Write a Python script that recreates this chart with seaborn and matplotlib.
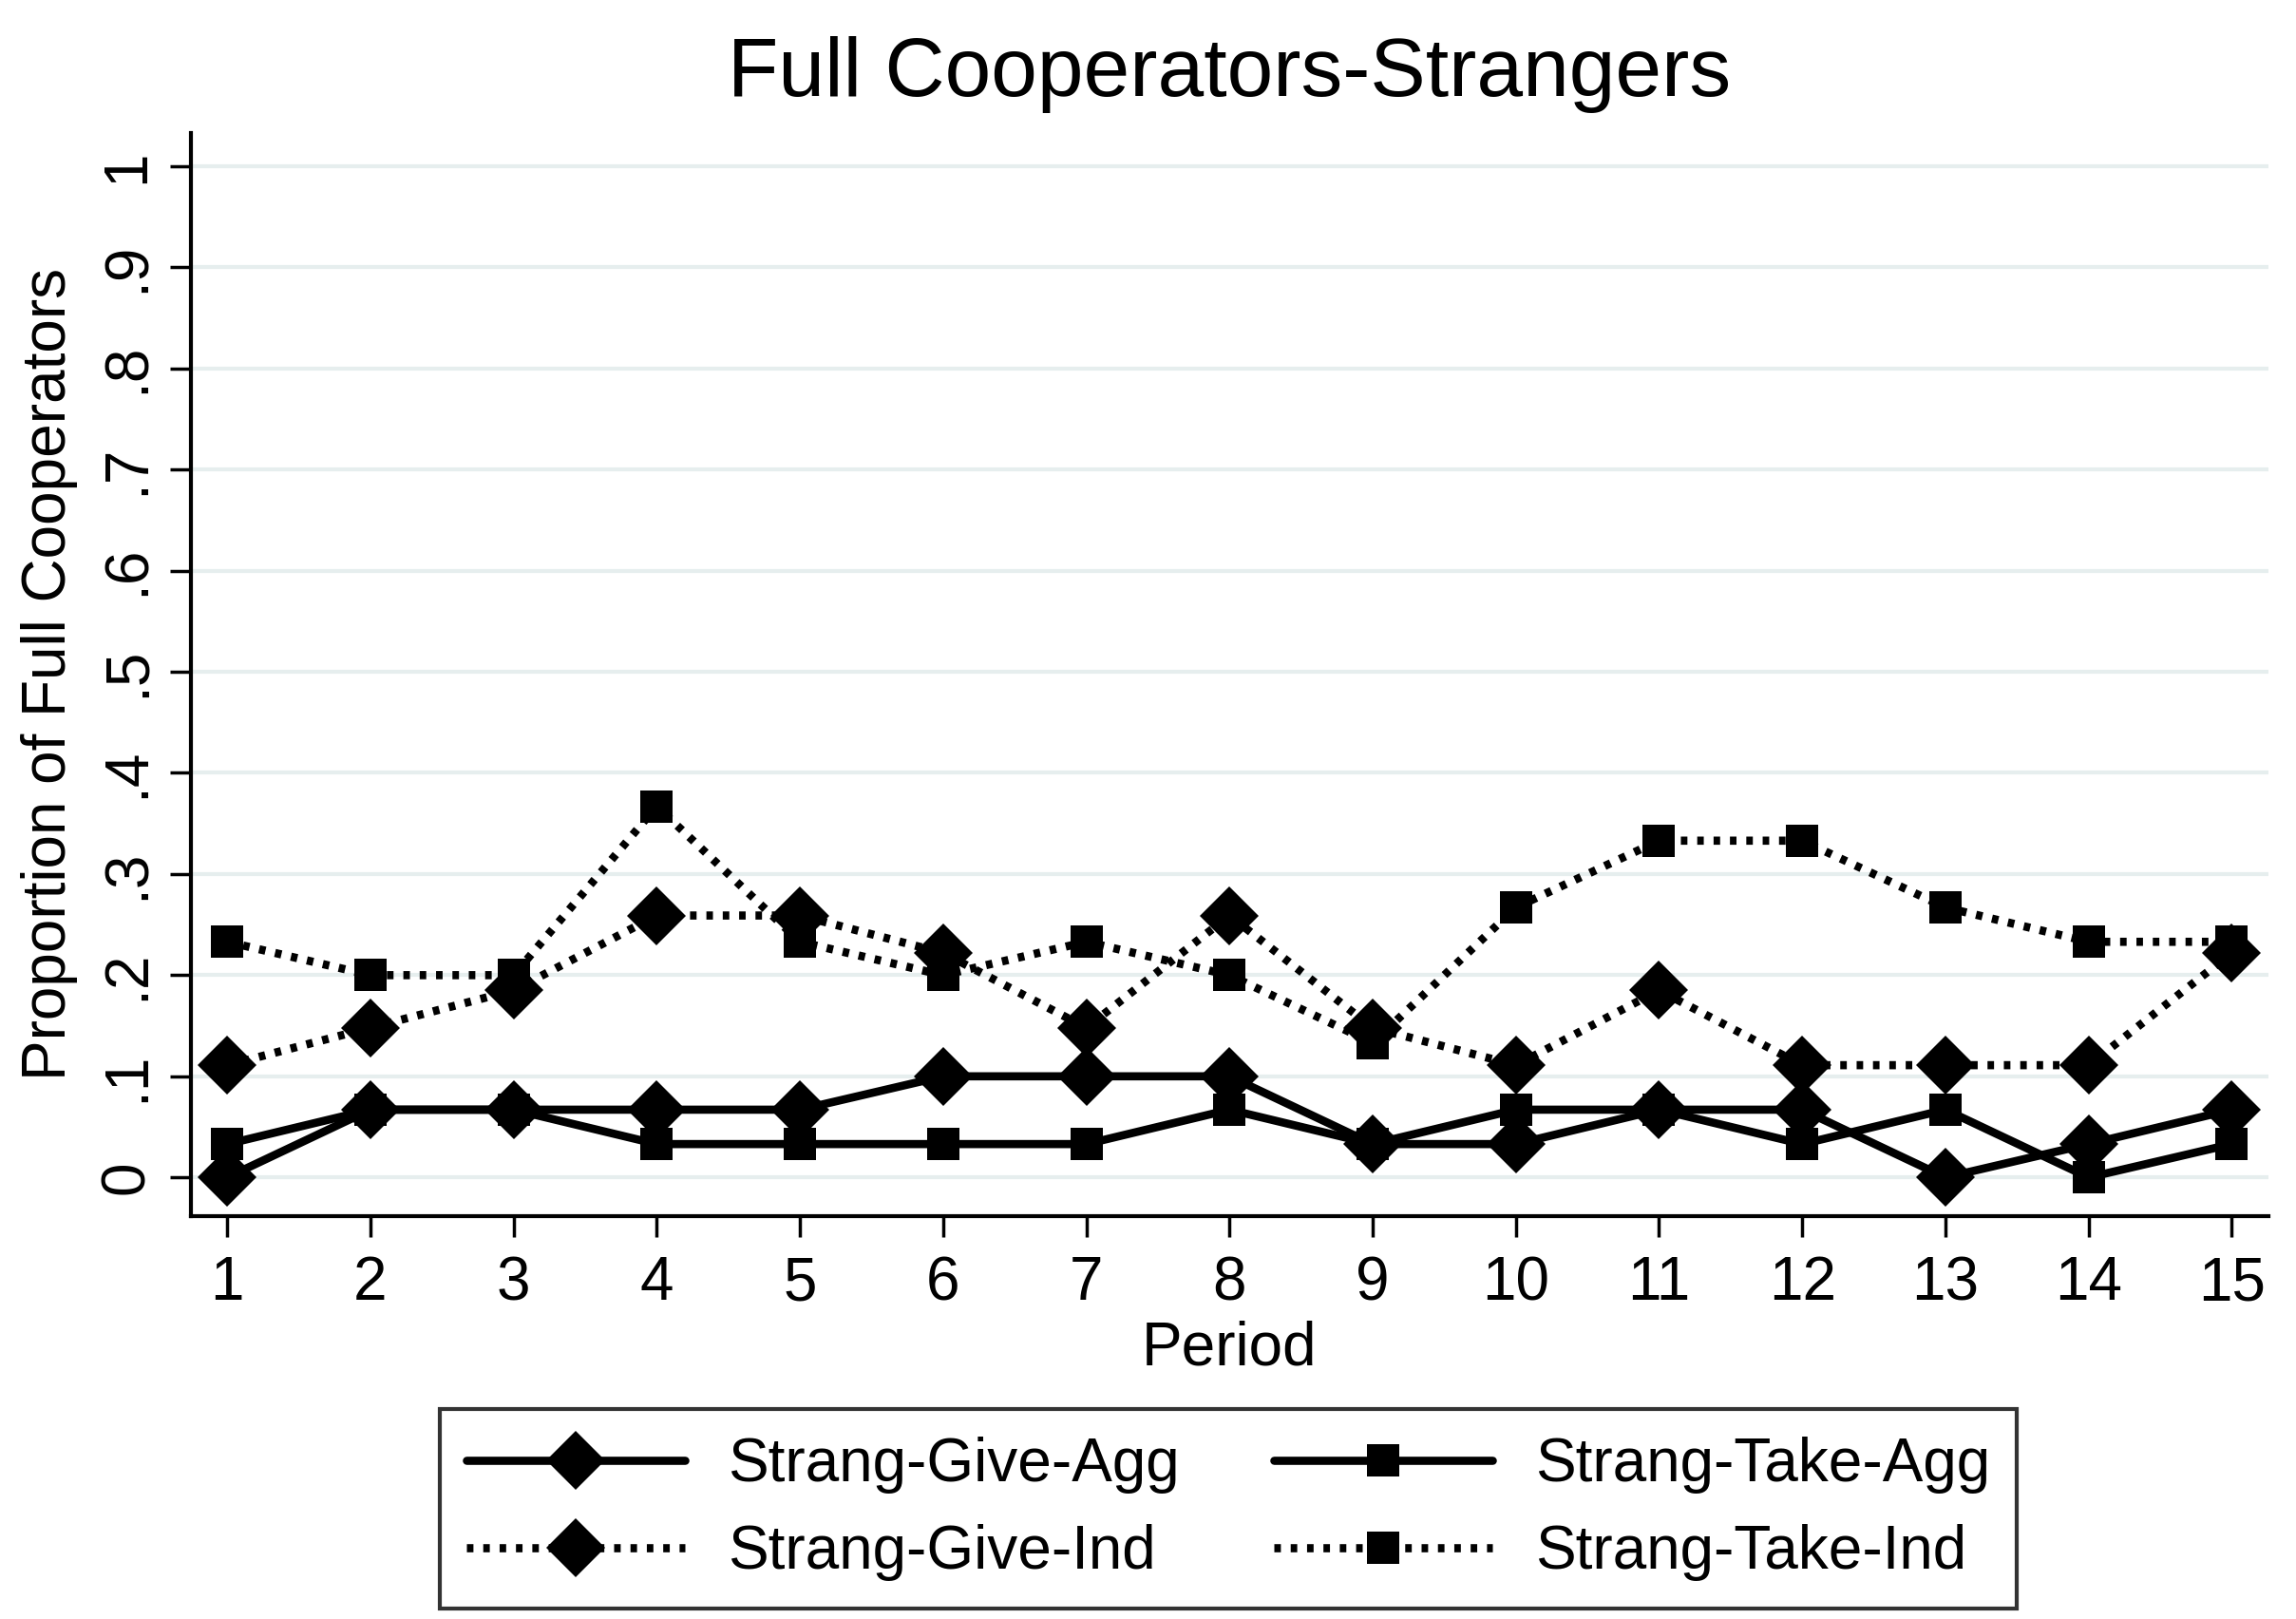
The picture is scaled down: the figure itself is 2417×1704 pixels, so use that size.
import matplotlib
matplotlib.use("Agg")
import matplotlib.pyplot as plt
import seaborn as sns
import pandas as pd
import numpy as np

periods = list(range(1, 16))
give_agg = [0, .067, .067, .067, .067, .1, .1, .1, .033, .033, .067, .067, 0, .033, .067]
take_agg = [.033, .067, .067, .033, .033, .033, .033, .067, .033, .067, .067, .033, .067, 0, .033]
give_ind = [.111, .148, .185, .259, .259, .222, .148, .259, .148, .111, .185, .111, .111, .111, .222]
take_ind = [.233, .2, .2, .367, .233, .2, .233, .2, .133, .267, .333, .333, .267, .233, .233]
labels = ["Strang-Give-Agg", "Strang-Take-Agg", "Strang-Give-Ind", "Strang-Take-Ind"]
ytick_vals = [0, .1, .2, .3, .4, .5, .6, .7, .8, .9, 1]
ytick_labels = ["0", ".1", ".2", ".3", ".4", ".5", ".6", ".7", ".8", ".9", "1"]

sns.set_theme(style="white")
plt.rcParams['font.family'] = ['Liberation Sans', 'DejaVu Sans']
plt.rcParams['text.color'] = 'black'
plt.rcParams['axes.labelcolor'] = 'black'

fig = plt.figure(figsize=(24.17, 17.04), dpi=100)
ax = fig.add_axes([0.083, 0.249, 0.905, 0.669])

series = [give_agg, take_agg, give_ind, take_ind]
dot = (0, (0.8, 1.2))
styles = [("-", "D", 32), ("-", "s", 25), (dot, "D", 32), (dot, "s", 25)]
for vals, lab, (ls, mk, ms) in zip(series, labels, styles):
    df = pd.DataFrame({"Period": periods, "val": vals})
    sns.lineplot(data=df, x="Period", y="val", ax=ax, color="black", linewidth=6.2,
                 linestyle=ls, marker=mk, markersize=ms, markeredgewidth=0,
                 label=lab, zorder=3)

ax.set_xlim(0.744, 15.256)
ax.set_ylim(-0.038, 1.033)
ax.set_yticks(ytick_vals)
ax.set_yticklabels(ytick_labels, rotation=90, va="center")
ax.set_xticks(periods)
ax.set_xticklabels([str(p) for p in periods])
for y in ytick_vals:
    ax.axhline(y, color="#e6eeee", lw=3, zorder=1)

for s in ["top", "right"]:
    ax.spines[s].set_visible(False)
for s in ["left", "bottom"]:
    ax.spines[s].set_color("black")
    ax.spines[s].set_linewidth(3)

ax.tick_params(axis="both", direction="out", length=16, width=2.5, color="black",
               labelsize=46, labelcolor="black", left=True, bottom=True)
ax.tick_params(axis="x", pad=14)
ax.tick_params(axis="y", pad=10)

ax.set_xlabel("Period", fontsize=46, color="black", labelpad=6)
ax.set_ylabel("Proportion of Full Cooperators", fontsize=46, color="black", labelpad=16)
ax.set_title("Full Cooperators-Strangers", fontsize=63, color="black", pad=28)

ax.get_legend().remove()
handles, labs = ax.get_legend_handles_labels()
order = [0, 2, 1, 3]
leg = fig.legend([handles[i] for i in order], [labs[i] for i in order], ncol=2, loc="center",
                 bbox_to_anchor=(0.535, 0.068), fontsize=46, frameon=True,
                 fancybox=False, edgecolor="black", handlelength=3.6,
                 columnspacing=1.55, borderpad=0.45, labelspacing=0.5,
                 handletextpad=0.7)
leg.get_frame().set_linewidth(3)
for t in leg.get_texts():
    t.set_color("black")

fig.savefig("out.png", dpi=100, facecolor="white")
